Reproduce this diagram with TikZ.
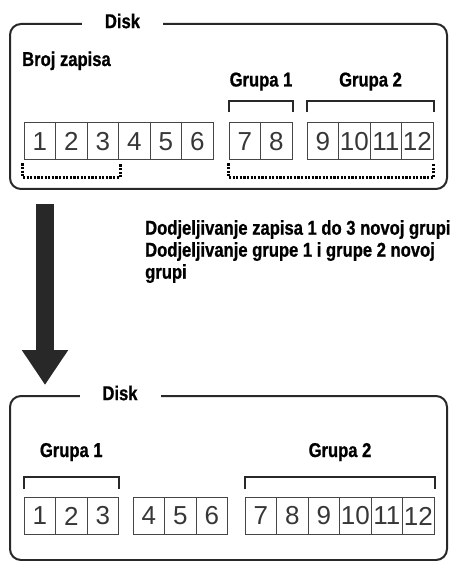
\documentclass[tikz,border=0pt]{standalone}
\usepackage{fontspec}
\setmainfont{Liberation Sans}
\newfontfamily\condfont{Liberation Sans}[FakeStretch=0.83, BoldFeatures={FakeBold=0.8}]
\usepackage{tikz}
\usetikzlibrary{calc,arrows.meta}
\usepackage{xcolor}
\definecolor{linegray}{RGB}{40,40,40}
\definecolor{cellgray}{RGB}{70,70,70}
\definecolor{digitgray}{RGB}{55,55,55}

\begin{document}
\begin{tikzpicture}[x=1pt, y=-1pt,
  diskbox/.style={draw=linegray, line width=2pt, rounded corners=11pt,
                  minimum width=437pt, inner sep=0pt},
  title/.style  ={fill=white, minimum width=81pt, inner xsep=0pt, inner ysep=2pt,
                  font=\condfont\bfseries\fontsize{20}{22}\selectfont},
  lbl/.style    ={inner sep=0pt, font=\condfont\bfseries\fontsize{20}{22}\selectfont},
  cell/.style   ={draw=cellgray, line width=1pt, minimum width=31.5pt,
                  minimum height=37pt, inner sep=0pt, text=digitgray,
                  font=\fontsize{26}{26}\selectfont},
  brk/.style    ={draw=linegray, line width=2pt},
  dotbrk/.style ={draw=black, line width=3pt, dash pattern=on 2.2pt off 1.4pt},
  bigarr/.style ={draw=linegray, line width=18pt,
                  -{Triangle[width=44pt, length=35pt]}}
]
  \useasboundingbox (0,0) rectangle (450,561);

  %% ── Top disk ─────────────────────────────────────────────────────────────
  \node[diskbox, minimum height=165pt] (disk1) at (228.5,106.5) {};
  \node[title] (disk1t) at (122.5,21) {Disk};
  \node[lbl, anchor=base west] (broj) at (22,66) {Broj zapisa};

  \foreach \i in {1,...,6}
    \node[cell] (t\i) at ({39.75+(\i-1)*31.5},141.5) {\i};
  \foreach \i in {7,8}
    \node[cell] (t\i) at ({244.75+(\i-7)*31.5},141.5) {\i};
  \foreach \i in {9,...,12}
    \node[cell] (t\i) at ({322.75+(\i-9)*31.5},141.5) {\i};

  %% ── Top disk: group brackets above, dotted brackets below ────────────────
  \draw[brk] ($(t7.north west)+(0,-10)$) -- ++(0,-11) -| ($(t8.north east)+(0,-10)$);
  \draw[brk] ($(t9.north west)+(0,-10)$) -- ++(0,-11) -| ($(t12.north east)+(0,-10)$);
  \node[lbl, anchor=base] (tg1) at ($(t7.north east)+(0,-36)$) {Grupa 1};
  \node[lbl, anchor=base] (tg2) at ($(t10.north east)+(0,-36)$) {Grupa 2};

  \draw[dotbrk] ($(t1.south west)+(-1,3)$) -- ++(0,14) -| ($(t3.south east)+(1,3)$);
  \draw[dotbrk] ($(t7.south west)+(0,3)$) -- ++(0,14) -| ($(t12.south east)+(0,3)$);

  %% ── Arrow and note ───────────────────────────────────────────────────────
  \coordinate (arrtop) at (45,204);
  \coordinate (arrtip) at (45,385);
  \draw[bigarr] (arrtop) -- (arrtip);
  \node[lbl, anchor=north west, align=left] (note) at (145,220)
    {Dodjeljivanje zapisa 1 do 3 novoj grupi\\
     Dodjeljivanje grupe 1 i grupe 2 novoj\\
     grupi};

  %% ── Bottom disk ──────────────────────────────────────────────────────────
  \node[diskbox, minimum height=164pt] (disk2) at (228.5,478) {};
  \node[title] (disk2t) at (120,393) {Disk};

  \foreach \i in {1,...,3}
    \node[cell] (b\i) at ({39.75+(\i-1)*31.5},516) {\i};
  \foreach \i in {4,...,6}
    \node[cell] (b\i) at ({148.75+(\i-4)*31.5},516) {\i};
  \foreach \i in {7,...,12}
    \node[cell] (b\i) at ({260.75+(\i-7)*31.5},516) {\i};

  \draw[brk] ($(b1.north west)+(0,-8)$) -- ++(0,-12) -| ($(b3.north east)+(0,-8)$);
  \draw[brk] ($(b7.north west)+(0,-8)$) -- ++(0,-12) -| ($(b12.north east)+(0,-8)$);
  \node[lbl, anchor=base] (bg1) at ($(b2.north)+(0,-40)$) {Grupa 1};
  \node[lbl, anchor=base] (bg2) at ($(b9.north east)+(0,-40)$) {Grupa 2};

\end{tikzpicture}
\end{document}
